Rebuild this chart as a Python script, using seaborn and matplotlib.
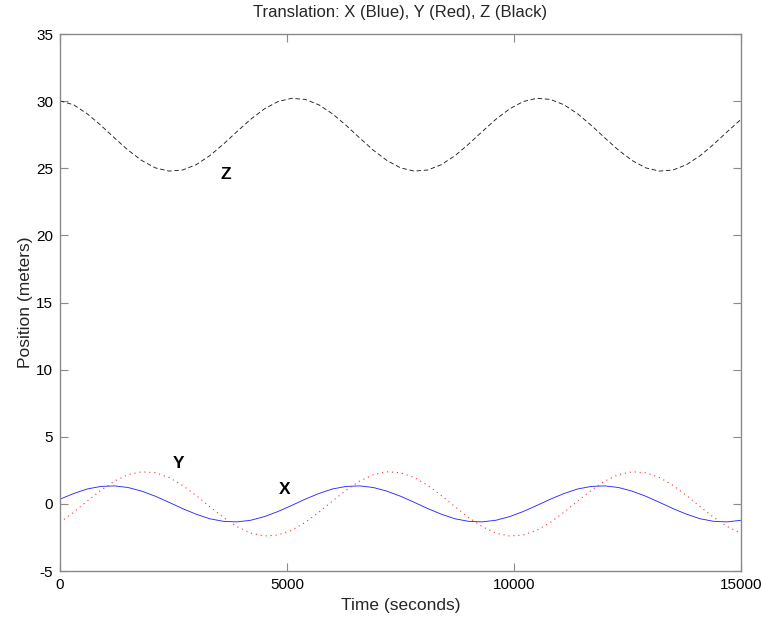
import matplotlib
matplotlib.use("Agg")
import matplotlib.pyplot as plt
import seaborn as sns
import pandas as pd

# Sample times (seconds), one reading every 300 s
time_s = list(range(0, 15001, 300))

# Translation components (meters)
x_pos = [0.35, 0.77, 1.11, 1.30, 1.34, 1.22, 0.95, 0.57, 0.12,
         -0.35, -0.77, -1.11, -1.30, -1.34, -1.22, -0.95, -0.57, -0.12,
         0.35, 0.77, 1.11, 1.30, 1.34, 1.22, 0.95, 0.57, 0.12,
         -0.35, -0.77, -1.11, -1.30, -1.34, -1.22, -0.95, -0.57, -0.12,
         0.35, 0.77, 1.11, 1.30, 1.34, 1.22, 0.95, 0.57, 0.12,
         -0.35, -0.77, -1.11, -1.30, -1.34, -1.22]
y_pos = [-1.38, -0.62, 0.21, 1.01, 1.70, 2.18, 2.39, 2.32, 1.97,
         1.38, 0.62, -0.21, -1.01, -1.70, -2.18, -2.39, -2.32, -1.97,
         -1.38, -0.62, 0.21, 1.01, 1.70, 2.18, 2.39, 2.32, 1.97,
         1.38, 0.62, -0.21, -1.01, -1.70, -2.18, -2.39, -2.32, -1.97,
         -1.38, -0.62, 0.21, 1.01, 1.70, 2.18, 2.39, 2.32, 1.97,
         1.38, 0.62, -0.21, -1.01, -1.70, -2.18]
z_pos = [30.02, 29.73, 29.06, 28.20, 27.26, 26.35, 25.58, 25.03, 24.79,
         24.87, 25.27, 25.94, 26.80, 27.74, 28.65, 29.42, 29.97, 30.21,
         30.13, 29.73, 29.06, 28.20, 27.26, 26.35, 25.58, 25.03, 24.79,
         24.87, 25.27, 25.94, 26.80, 27.74, 28.65, 29.42, 29.97, 30.21,
         30.13, 29.73, 29.06, 28.20, 27.26, 26.35, 25.58, 25.03, 24.79,
         24.87, 25.27, 25.94, 26.80, 27.74, 28.65]

x_ticks = [0, 5000, 10000, 15000]
y_ticks = [-5, 0, 5, 10, 15, 20, 25, 30, 35]

# Curve annotations: (label, time, position)
labels = [("Z", 3656, 24.5), ("Y", 2600, 3.0), ("X", 4955, 1.1)]

sns.set_theme(style="white")
plt.rcParams["font.family"] = ["Liberation Sans", "DejaVu Sans"]

df = pd.DataFrame({"t": time_s, "X": x_pos, "Y": y_pos, "Z": z_pos})

fig = plt.figure(figsize=(7.64, 6.21), dpi=100)
ax = fig.add_axes([0.0785, 0.0805, 0.8915, 0.8647])

sns.lineplot(data=df, x="t", y="X", ax=ax, color="#2b2bff", linewidth=0.65)
sns.lineplot(data=df, x="t", y="Y", ax=ax, color="#ff3030", linewidth=0.8,
             linestyle=(0, (1, 3.5)))
sns.lineplot(data=df, x="t", y="Z", ax=ax, color="#202020", linewidth=0.65,
             linestyle=(0, (5, 3)))

for name, t, v in labels:
    ax.text(t, v, name, ha="center", va="center", fontsize=12.5,
            fontweight="bold", color="black")

ax.set_xlim(0, 15000)
ax.set_ylim(-5, 35)
ax.set_xticks(x_ticks)
ax.set_yticks(y_ticks)
ax.set_xticklabels([str(v) for v in x_ticks])
ax.set_yticklabels([str(v) for v in y_ticks])

ax.set_xlabel("Time (seconds)", fontsize=12.5, labelpad=4)
ax.set_ylabel("Position (meters)", fontsize=12.5, labelpad=2)
ax.set_title("Translation: X (Blue), Y (Red), Z (Black)", fontsize=12, pad=12)

for side in ["left", "right", "top", "bottom"]:
    ax.spines[side].set_visible(True)
    ax.spines[side].set_color("#8a8a8a")
    ax.spines[side].set_linewidth(1.0)

ax.tick_params(axis="both", which="major", direction="in", length=6,
               width=0.8, color="#8a8a8a", labelsize=11, labelcolor="black",
               top=True, right=True, bottom=True, left=True, pad=5)

fig.savefig("out.png", dpi=100, facecolor="white")
